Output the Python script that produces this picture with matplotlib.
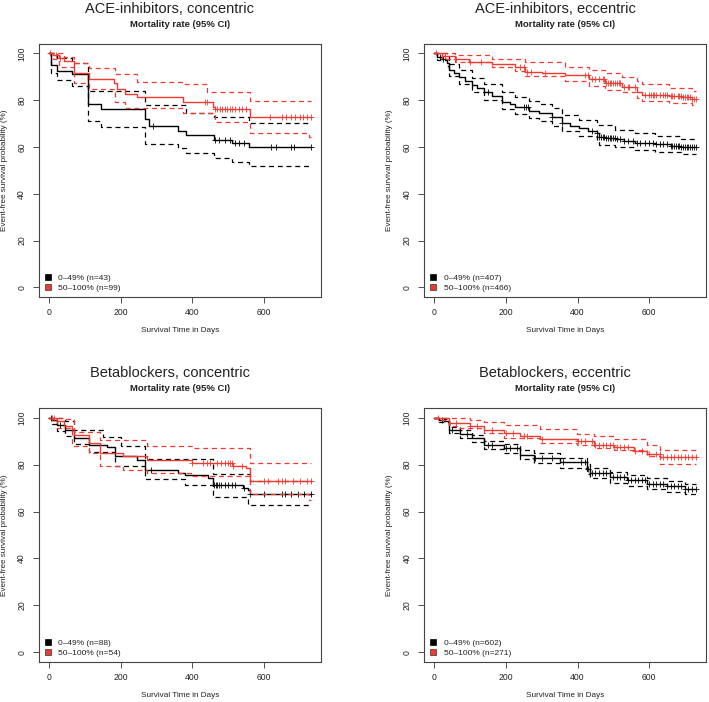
import numpy as np
import matplotlib
matplotlib.use('Agg')
import matplotlib.pyplot as plt
from matplotlib.patches import Patch

plt.rcParams['font.family'] = ['Liberation Sans', 'DejaVu Sans']

END_DAY = 731
RED = '#ee3a30'

# ---------- ACE-inhibitors, concentric ----------
ace_con_lo_t = [0, 6.6, 21.4, 64.9, 109, 145, 268.6, 278, 361, 382.5, 461, 511, 557]
ace_con_lo_s = [100, 95.0, 92.6, 91.2, 78.2, 76.1, 71.9, 68.9, 66.9, 65.0, 62.9, 61.5, 60.1]
ace_con_lo_up_t = [0, 21.4, 64.9, 109, 268.6, 382.5, 461, 557]
ace_con_lo_up = [100, 97.9, 95.7, 84.0, 77.9, 74.4, 72.7, 70.1]
ace_con_lo_dn_t = [0, 6.6, 21.4, 64.9, 109, 145, 268.6, 361, 382.5, 461, 511, 557]
ace_con_lo_dn = [100, 91.4, 88.6, 86.0, 71.1, 68.7, 61.2, 59.4, 57.3, 55.2, 53.7, 52.0]
ace_con_lo_cens = [291.7, 463, 475, 490, 505, 520, 529, 543, 620, 634, 676, 683, 731]

ace_con_hi_t = [0, 12, 27.9, 41.9, 69.5, 111, 180.6, 190, 213, 245.4, 373, 458, 463, 560]
ace_con_hi_s = [100, 99.3, 97.9, 96.9, 91.4, 88.9, 87.2, 84.9, 82.6, 81.2, 79.3, 77.2, 76.2, 72.6]
ace_con_hi_up_t = [0, 41.9, 69.5, 111, 185, 245.4, 373, 440, 560]
ace_con_hi_up = [100, 98.6, 96.0, 93.6, 91.0, 87.6, 86.9, 83.6, 79.7]
ace_con_hi_dn_t = [0, 12, 27.9, 69.5, 111, 185, 213, 373, 463, 560, 725]
ace_con_hi_dn = [100, 97.5, 94.3, 87.2, 84.6, 79.3, 76.5, 74.6, 70.8, 65.8, 64.4]
ace_con_hi_cens = [4, 20, 30, 435, 440, 463, 470, 477, 484, 490, 497, 505, 512, 520,
                   530, 540, 550, 617, 650, 662, 675, 688, 700, 710, 720, 731]

# ---------- ACE-inhibitors, eccentric ----------
ace_ecc_lo_t = [0, 7.5, 20, 35.4, 40, 55, 68, 85, 105, 120, 138, 160, 189, 210, 226, 263.5,
                291.4, 330, 357, 380, 403, 430, 454, 459, 480, 505.6, 530, 561.5, 617, 660, 690]
ace_ecc_lo_s = [100, 98.6, 97.5, 96.0, 92.9, 91.5, 90.0, 88.2, 86.5, 85.0, 83.6, 81.8, 79.4, 78.2,
                77.2, 75.5, 74.4, 72.7, 70.1, 69.0, 68.0, 67.0, 65.8, 64.4, 63.8, 63.3, 62.5, 61.9,
                61.3, 60.6, 60.1]
ace_ecc_lo_up_t = [0, 35, 40, 68, 105, 138, 189, 226, 263, 291, 330, 357, 403, 454, 505, 561, 617, 690]
ace_ecc_lo_up = [100, 99.2, 95.5, 92.8, 89.6, 87.0, 83.3, 81.2, 79.5, 78.4, 76.5, 73.5, 71.7, 69.4,
                 67.2, 65.8, 64.8, 63.3]
ace_ecc_lo_dn_t = [0, 7.5, 35.4, 40, 68, 105, 138, 189, 226, 263, 291, 330, 357, 403, 454, 459,
                   505, 561, 617, 690]
ace_ecc_lo_dn = [100, 97.3, 94.5, 90.2, 87.0, 83.4, 80.2, 76.4, 74.0, 72.3, 71.0, 69.0, 66.8, 64.6,
                 62.3, 60.8, 60.0, 58.8, 58.0, 57.2]
ace_ecc_lo_cens = [15, 25, 150, 250, 255, 262, 330, 357, 440, 455, 460, 465, 470, 475, 480, 485,
                   490, 495, 500, 505, 510, 520, 530, 540, 555, 565, 575, 590, 600, 610, 620, 630,
                   640, 650, 660, 665, 670, 675, 680, 685, 690, 695, 700, 705, 710, 715, 720, 725, 730]

ace_ecc_hi_t = [0, 21, 58.7, 96, 161, 226, 254, 300, 366, 431, 478, 524, 566, 580, 655, 692, 720]
ace_ecc_hi_s = [100, 98.9, 97.5, 96.5, 95.5, 94.0, 92.2, 91.4, 90.7, 88.9, 87.2, 85.7, 83.6, 82.2,
                81.7, 81.2, 80.7]
ace_ecc_hi_up_t = [0, 58, 161, 254, 366, 431, 478, 524, 566, 580, 655, 720]
ace_ecc_hi_up = [100, 99.5, 97.6, 96.2, 94.0, 92.8, 91.5, 90.0, 88.0, 86.8, 85.0, 83.9]
ace_ecc_hi_dn_t = [0, 21, 58, 161, 226, 254, 366, 431, 478, 524, 566, 580, 655, 720]
ace_ecc_hi_dn = [100, 97.8, 96.3, 94.0, 92.3, 90.5, 88.2, 86.2, 84.5, 83.3, 81.0, 79.8, 78.8, 77.9]
ace_ecc_hi_cens = [5, 30, 60, 100, 130, 240, 250, 260, 270, 310, 420, 430, 440, 450, 460, 470,
                   475, 480, 485, 490, 495, 500, 505, 510, 515, 520, 530, 540, 545, 560, 590, 600,
                   605, 610, 615, 620, 630, 640, 645, 650, 660, 665, 670, 680, 685, 690, 695, 700,
                   705, 710, 715, 720, 725, 730]

# ---------- Betablockers, concentric ----------
bb_con_lo_t = [0, 8.5, 22.5, 45.6, 69, 111, 162, 185, 245, 268.5, 361, 380, 444.6, 458.6, 542, 556, 560]
bb_con_lo_s = [100, 99.0, 96.9, 94.8, 91.3, 88.2, 87.4, 83.5, 82.1, 77.6, 76.5, 75.5, 74.4, 71.3,
               70.0, 69.0, 67.6]
bb_con_lo_up_t = [0, 45.6, 69, 150, 200, 268.5, 458.6, 560]
bb_con_lo_up = [100, 98.5, 94.8, 91.6, 87.8, 82.4, 75.8, 72.9]
bb_con_lo_dn_t = [0, 8.5, 22.5, 45.6, 69, 111, 185, 268.5, 380, 458.6, 556]
bb_con_lo_dn = [100, 97.5, 94.5, 92.0, 88.6, 85.5, 79.3, 73.7, 71.1, 66.2, 62.7]
bb_con_lo_cens = [5, 30, 285, 460, 465, 470, 475, 480, 490, 500, 510, 520, 545, 560, 600, 650,
                  660, 675, 695, 712, 731]

bb_con_hi_t = [0, 22.5, 41.9, 64.9, 69.5, 111, 143.6, 208, 273, 398, 514, 551, 560]
bb_con_hi_s = [100, 98.6, 96.6, 95.2, 92.6, 89.1, 84.8, 83.5, 82.1, 80.7, 79.3, 78.6, 73.2]
bb_con_hi_up_t = [0, 41.9, 69.5, 143.6, 273, 398, 560]
bb_con_hi_up = [100, 99.3, 93.9, 90.7, 88.0, 86.9, 80.8]
bb_con_hi_dn_t = [0, 22.5, 64.9, 111, 143.6, 208, 273, 398, 560, 725]
bb_con_hi_dn = [100, 95.5, 87.8, 85.0, 79.3, 77.9, 76.5, 75.1, 67.6, 64.8]
bb_con_hi_cens = [8, 15, 400, 430, 440, 450, 470, 480, 490, 500, 505, 510, 515, 540, 600, 610,
                  640, 650, 660, 680, 700, 720, 731]

# ---------- Betablockers, eccentric ----------
bb_ecc_lo_t = [0, 12, 26, 40, 72.6, 105, 138, 194, 240, 277.6, 352, 426, 436, 492, 538, 594, 650, 700]
bb_ecc_lo_s = [100, 99.0, 98.4, 94.8, 93.1, 91.3, 88.5, 87.0, 84.2, 82.8, 80.9, 78.1, 76.4, 74.7,
               73.3, 71.9, 70.7, 69.6]
bb_ecc_lo_up_t = [0, 26, 40, 72.6, 105, 138, 194, 240, 277.6, 352, 426, 436, 492, 538, 594, 650, 700]
bb_ecc_lo_up = [100, 99.3, 96.2, 94.6, 92.8, 90.2, 88.8, 86.1, 84.8, 83.0, 80.2, 78.6, 77.0, 75.6,
                74.2, 73.0, 71.8]
bb_ecc_lo_dn_t = [0, 12, 40, 72.6, 105, 138, 194, 240, 277.6, 352, 426, 436, 492, 538, 594, 650, 700]
bb_ecc_lo_dn = [100, 98.2, 93.3, 91.5, 89.6, 86.7, 85.1, 82.2, 80.7, 78.7, 75.9, 74.1, 72.3, 70.9,
                69.5, 68.3, 67.3]
bb_ecc_lo_cens = [20, 50, 90, 150, 160, 200, 210, 230, 280, 300, 330, 360, 410, 420, 430, 440, 450,
                  460, 470, 480, 490, 500, 510, 520, 530, 540, 550, 560, 570, 580, 590, 600, 610,
                  620, 630, 640, 650, 660, 670, 680, 690, 700, 710, 720, 730]

bb_ecc_hi_t = [0, 16.8, 40, 100, 138, 194, 240, 296, 398.7, 445, 501, 557, 594, 631]
bb_ecc_hi_s = [100, 99.7, 97.9, 96.5, 94.8, 93.4, 92.0, 90.9, 89.9, 88.5, 87.5, 85.7, 84.6, 83.2]
bb_ecc_hi_up_t = [0, 100, 138, 194, 296, 398.7, 445, 501, 594, 631]
bb_ecc_hi_up = [100, 99.0, 98.1, 97.0, 95.2, 93.1, 92.1, 91.0, 88.5, 86.1]
bb_ecc_hi_dn_t = [0, 16.8, 40, 63, 138, 194, 296, 398.7, 445, 501, 594, 631]
bb_ecc_hi_dn = [100, 99.0, 96.5, 95.4, 93.4, 91.2, 89.4, 88.2, 87.0, 86.1, 83.5, 80.4]
bb_ecc_hi_cens = [10, 60, 100, 120, 160, 200, 220, 250, 260, 300, 400, 410, 420, 440, 450, 460,
                  470, 480, 490, 500, 510, 520, 530, 540, 560, 580, 600, 620, 630, 640, 650, 660,
                  670, 680, 690, 700, 710, 720, 730]

titles = ['ACE-inhibitors, concentric', 'ACE-inhibitors, eccentric',
          'Betablockers, concentric', 'Betablockers, eccentric']
n_low = [43, 407, 88, 602]
n_high = [99, 466, 54, 271]


def step_line(ax, t, s, color, **kw):
    t = list(t) + [END_DAY]
    s = list(s) + [s[-1]]
    ax.step(t, s, where='post', color=color, **kw)


def km_curve(ax, t, s, up_t, up, dn_t, dn, cens, color):
    step_line(ax, t, s, color, lw=1.0)
    step_line(ax, up_t, up, color, lw=0.9, linestyle=(0, (4, 3)))
    step_line(ax, dn_t, dn, color, lw=0.9, linestyle=(0, (4, 3)))
    # censoring ticks sit on the curve
    idx = np.searchsorted(t, cens, side='right') - 1
    ax.plot(cens, np.array(s)[idx], linestyle='none', marker='+', color=color,
            ms=4.5, mew=0.6)


fig = plt.figure(figsize=(7.09, 7.02), dpi=100)
W, H = 709, 702
# axes boxes in pixels: left, top, right, bottom
boxes = [(38.5, 44, 321, 296.7), (424, 44, 706, 296.7),
         (38.5, 408.3, 321, 661.7), (424, 408.3, 706, 661.7)]

panels = [
    (ace_con_lo_t, ace_con_lo_s, ace_con_lo_up_t, ace_con_lo_up, ace_con_lo_dn_t, ace_con_lo_dn, ace_con_lo_cens,
     ace_con_hi_t, ace_con_hi_s, ace_con_hi_up_t, ace_con_hi_up, ace_con_hi_dn_t, ace_con_hi_dn, ace_con_hi_cens),
    (ace_ecc_lo_t, ace_ecc_lo_s, ace_ecc_lo_up_t, ace_ecc_lo_up, ace_ecc_lo_dn_t, ace_ecc_lo_dn, ace_ecc_lo_cens,
     ace_ecc_hi_t, ace_ecc_hi_s, ace_ecc_hi_up_t, ace_ecc_hi_up, ace_ecc_hi_dn_t, ace_ecc_hi_dn, ace_ecc_hi_cens),
    (bb_con_lo_t, bb_con_lo_s, bb_con_lo_up_t, bb_con_lo_up, bb_con_lo_dn_t, bb_con_lo_dn, bb_con_lo_cens,
     bb_con_hi_t, bb_con_hi_s, bb_con_hi_up_t, bb_con_hi_up, bb_con_hi_dn_t, bb_con_hi_dn, bb_con_hi_cens),
    (bb_ecc_lo_t, bb_ecc_lo_s, bb_ecc_lo_up_t, bb_ecc_lo_up, bb_ecc_lo_dn_t, bb_ecc_lo_dn, bb_ecc_lo_cens,
     bb_ecc_hi_t, bb_ecc_hi_s, bb_ecc_hi_up_t, bb_ecc_hi_up, bb_ecc_hi_dn_t, bb_ecc_hi_dn, bb_ecc_hi_cens),
]

for i, (x0, y0, x1, y1) in enumerate(boxes):
    ax = fig.add_axes([x0 / W, 1 - y1 / H, (x1 - x0) / W, (y1 - y0) / H])
    d = panels[i]
    km_curve(ax, *d[:7], color='black')
    km_curve(ax, *d[7:], color=RED)

    ax.set_xlim(-29.2, 759.2)
    ax.set_ylim(-4, 104)
    ax.set_xticks([0, 200, 400, 600])
    ax.set_yticks([0, 20, 40, 60, 80, 100])
    ax.tick_params(length=4.3, width=0.6, labelsize=6.2, color='#333333', labelcolor='#222222')
    ax.tick_params(axis='x', pad=4)
    ax.tick_params(axis='y', pad=4.5)
    for lab in ax.get_yticklabels():
        lab.set_rotation(90)
        lab.set_va('center')
    for sp in ax.spines.values():
        sp.set_linewidth(0.8)
        sp.set_color('#444444')

    ax.set_xlabel('Survival Time in Days', fontsize=5.9, color='#222222', va='center')
    ax.set_ylabel('Event-free survival probability (%)', fontsize=5.9, color='#222222')
    ax.xaxis.set_label_coords(0.5, -34.0 / (y1 - y0))
    ax.yaxis.set_label_coords(-30.5 / (x1 - x0), 0.5)

    handles = [Patch(facecolor='black', edgecolor='black', lw=0.5),
               Patch(facecolor=RED, edgecolor='#333333', lw=0.5)]
    labels = [f'0\u201349% (n={n_low[i]})', f'50\u2013100% (n={n_high[i]})']
    ax.legend(handles, labels,
              loc='lower left', bbox_to_anchor=(0.022, 0.018), borderaxespad=0, borderpad=0,
              frameon=False, fontsize=6, handlelength=0.75, handleheight=0.75,
              handletextpad=0.9, labelspacing=0.3, labelcolor='#222222')

    xc = (x0 + x1) / 2
    fig.text((xc - 10) / W, 1 - (y0 - 35) / H, titles[i], ha='center', va='center',
             fontsize=10.5, color='#222222')
    fig.text(xc / W, 1 - (y0 - 19.5) / H, 'Mortality rate (95% CI)', ha='center', va='center',
             fontsize=6.8, fontweight='bold', color='#222222')

fig.savefig('out.png', dpi=100)
